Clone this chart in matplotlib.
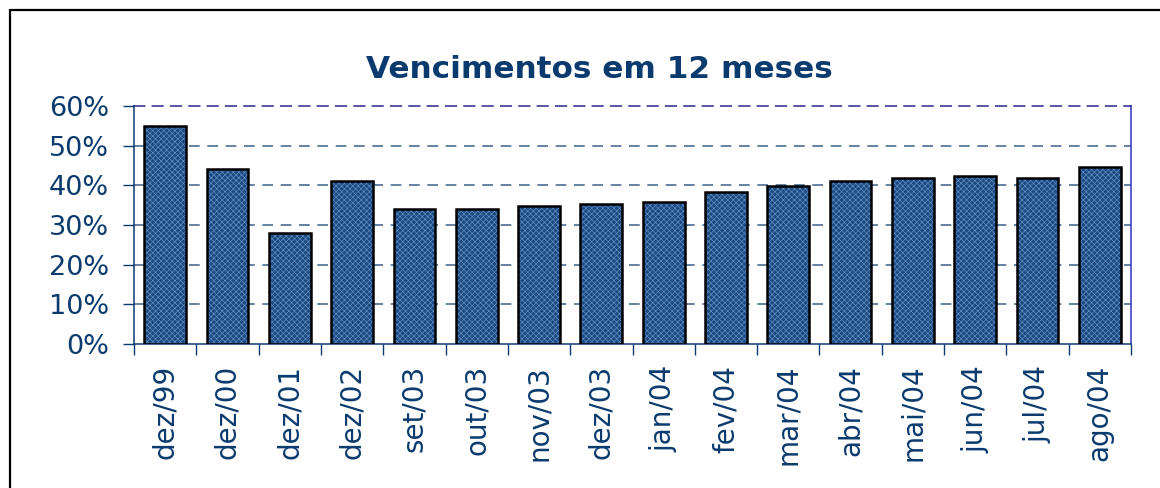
import numpy as np
import matplotlib.pyplot as plt
from matplotlib.patches import Rectangle
from matplotlib.ticker import FuncFormatter

meses = ['dez/99', 'dez/00', 'dez/01', 'dez/02', 'set/03', 'out/03', 'nov/03', 'dez/03',
         'jan/04', 'fev/04', 'mar/04', 'abr/04', 'mai/04', 'jun/04', 'jul/04', 'ago/04']
vencimentos = [55.0, 44.0, 28.0, 41.1, 34.0, 34.0, 34.8, 35.3,
               35.8, 38.3, 39.8, 41.1, 41.8, 42.3, 41.8, 44.6]

navy = '#0b3a6e'
plt.rcParams['hatch.linewidth'] = 0.5
plt.rcParams['font.family'] = 'DejaVu Sans'

fig = plt.figure(figsize=(11.6, 4.88), dpi=100)
ax = fig.add_axes([134/1160, 1-344/488, (1131-134)/1160, (344-106)/488])

x = np.arange(len(meses))
# hatched fill, then black outline
ax.bar(x, vencimentos, width=0.67, color='#1a4a80', hatch='xxxxxx', edgecolor='#5f8cc2', linewidth=0, zorder=3)
ax.bar(x, vencimentos, width=0.67, fill=False, edgecolor='black', linewidth=1.8, zorder=4)

ax.set_xlim(-0.5, len(meses) - 0.5)
ax.set_ylim(0, 60)
ax.set_yticks(range(0, 61, 10))
ax.yaxis.set_major_formatter(FuncFormatter(lambda v, p: f'{int(v)}%'))
for v in range(10, 51, 10):
    ax.axhline(v, color='#3d5f88', linestyle=(0, (7, 5)), linewidth=1.1, zorder=1)

ax.set_xticks(x)
ax.set_xticklabels(meses, rotation=90)
ax.set_xticks(np.arange(-0.5, len(meses)), minor=True)
ax.tick_params(axis='x', which='major', length=0, pad=15, labelsize=20, labelcolor=navy)
ax.tick_params(axis='x', which='minor', length=8, width=1, color=navy)
ax.tick_params(axis='y', length=8, width=1, color=navy, pad=10, labelsize=19.5, labelcolor=navy)

ax.spines['left'].set_color(navy)
ax.spines['bottom'].set_color(navy)
ax.spines['right'].set_color('#3333bb')
ax.spines['top'].set_color('#2a2a8a')
ax.spines['top'].set_linestyle((0, (7, 5)))
for s in ax.spines.values():
    s.set_linewidth(1.1)

fig.text(599/1160, 1-70/488, 'Vencimentos em 12 meses', ha='center', va='center',
         fontsize=22.4, fontweight='bold', color=navy)

fig.patches.append(Rectangle((10/1160, -0.1), 1.2, 1-10/488+0.1, transform=fig.transFigure,
                             fill=False, edgecolor='black', linewidth=1.6))

fig.savefig('out.png', dpi=100)
